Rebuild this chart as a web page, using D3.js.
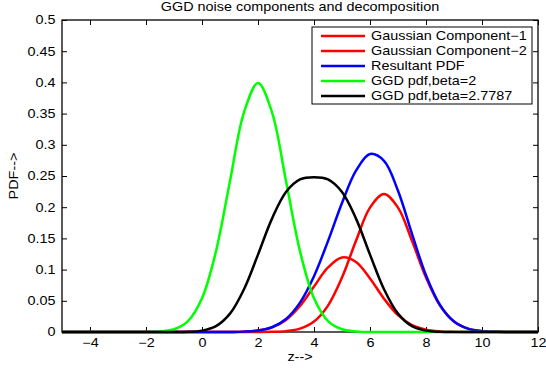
<!DOCTYPE html>
<html>
<head>
<meta charset="utf-8">
<script src="https://cdn.jsdelivr.net/npm/d3@7"></script>
<style>
body { margin: 0; background: #fff; }
text { font-family: "Liberation Sans", Arial, sans-serif; fill: #000; }
</style>
</head>
<body>
<script>
// z grid (step 0.5)
var zValues = [-5, -4.5, -4, -3.5, -3, -2.5, -2, -1.5, -1, -0.5, 0, 0.5, 1, 1.5, 2, 2.5, 3, 3.5, 4,
    4.5, 5, 5.5, 6, 6.5, 7, 7.5, 8, 8.5, 9, 9.5, 10, 10.5, 11, 11.5, 12];

var gauss1 = [0, 0, 0, 0, 0, 0, 0, 0, 0, 0, 0, 0, 0.0001, 0.0006, 0.0023, 0.0073, 0.0194, 0.0417, 0.0728,
    0.1034, 0.1195, 0.1123, 0.0859, 0.0534, 0.0270, 0.0111, 0.0037, 0.0010, 0.0002, 0, 0, 0, 0, 0, 0];
var gauss2 = [0, 0, 0, 0, 0, 0, 0, 0, 0, 0, 0, 0, 0, 0, 0.0001, 0.0003, 0.0014, 0.0054, 0.0167,
    0.0423, 0.0872, 0.1462, 0.1993, 0.2210, 0.1993, 0.1462, 0.0872, 0.0423, 0.0167, 0.0054, 0.0014, 0.0003, 0.0001, 0, 0];
var resultant = [0, 0, 0, 0, 0, 0, 0, 0, 0, 0, 0, 0, 0.0001, 0.0006, 0.0024, 0.0076, 0.0208, 0.0471, 0.0895,
    0.1457, 0.2067, 0.2585, 0.2852, 0.2744, 0.2263, 0.1573, 0.0909, 0.0433, 0.0169, 0.0054, 0.0014, 0.0003, 0.0001, 0, 0];
var ggdBeta2 = [0, 0, 0, 0, 0, 0, 0.0001, 0.0009, 0.0044, 0.0175, 0.0540, 0.1295, 0.2420, 0.3521, 0.3989, 0.3521, 0.2420, 0.1295, 0.0540,
    0.0175, 0.0044, 0.0009, 0.0001, 0, 0, 0, 0, 0, 0, 0, 0, 0, 0, 0, 0];
var ggdBeta27787 = [0, 0, 0, 0, 0, 0, 0, 0, 0, 0.0003, 0.0022, 0.0094, 0.0294, 0.0686, 0.1240, 0.1817, 0.2242, 0.2444, 0.2480,
    0.2444, 0.2242, 0.1817, 0.1240, 0.0686, 0.0294, 0.0094, 0.0022, 0.0003, 0, 0, 0, 0, 0, 0, 0];

var seriesNames = ["Gaussian Component\u22121", "Gaussian Component\u22122", "Resultant PDF", "GGD pdf,beta=2", "GGD pdf,beta=2.7787"];
var seriesColors = ["#ff0000", "#ff0000", "#0000ff", "#00ff00", "#000000"];
var seriesValues = [gauss1, gauss2, resultant, ggdBeta2, ggdBeta27787];

var xTicks = [-4, -2, 0, 2, 4, 6, 8, 10, 12];
var xTickLabels = ["\u22124", "\u22122", "0", "2", "4", "6", "8", "10", "12"];
var yTicks = [0, 0.05, 0.1, 0.15, 0.2, 0.25, 0.3, 0.35, 0.4, 0.45, 0.5];
var yTickLabels = ["0", "0.05", "0.1", "0.15", "0.2", "0.25", "0.3", "0.35", "0.4", "0.45", "0.5"];

var W = 546, H = 370;
var plotL = 62, plotR = 538, plotT = 20, plotB = 332;
var sx = 1.2; // text is drawn a bit wide in the reference

var x = d3.scaleLinear().domain([-5, 12]).range([plotL, plotR]);
var y = d3.scaleLinear().domain([0, 0.5]).range([plotB, plotT]);

var svg = d3.select("body").append("svg")
    .attr("width", W)
    .attr("height", H);

svg.append("rect")
    .attr("width", W).attr("height", H).attr("fill", "#fff");

// axes
var xAxis = d3.axisBottom(x).tickValues(xTicks)
    .tickFormat(function(d, i) { return xTickLabels[i]; })
    .tickSizeInner(-5).tickSizeOuter(0).tickPadding(6);
var yAxis = d3.axisLeft(y).tickValues(yTicks)
    .tickFormat(function(d, i) { return yTickLabels[i]; })
    .tickSizeInner(-5).tickSizeOuter(0).tickPadding(5.5);

svg.append("g").attr("transform", "translate(0," + plotB + ")").call(xAxis);
svg.append("g").attr("transform", "translate(" + plotL + ",0)").call(yAxis);
svg.append("g").attr("transform", "translate(0," + plotT + ")")
    .call(d3.axisTop(x).tickValues(xTicks).tickFormat("").tickSizeInner(-5).tickSizeOuter(0));
svg.append("g").attr("transform", "translate(" + plotR + ",0)")
    .call(d3.axisRight(y).tickValues(yTicks).tickFormat("").tickSizeInner(-5).tickSizeOuter(0));

svg.selectAll(".domain").remove();
svg.selectAll(".tick line").attr("stroke", "#000").attr("stroke-width", 1);
svg.selectAll(".tick text")
    .attr("font-family", "Liberation Sans, Arial, sans-serif")
    .attr("font-size", 12)
    .attr("fill", "#000")
    .attr("transform", "scale(" + sx + ",1)");

svg.append("rect")
    .attr("x", plotL).attr("y", plotT)
    .attr("width", plotR - plotL).attr("height", plotB - plotT)
    .attr("fill", "none").attr("stroke", "#000").attr("stroke-width", 1.3);

// curves
var line = d3.line()
    .x(function(d, i) { return x(zValues[i]); })
    .y(function(d) { return y(d); })
    .curve(d3.curveCatmullRom.alpha(0.5));

svg.append("g")
    .selectAll("path")
    .data(seriesValues)
    .join("path")
    .attr("d", line)
    .attr("fill", "none")
    .attr("stroke", function(d, i) { return seriesColors[i]; })
    .attr("stroke-width", 2.5)
    .attr("stroke-linejoin", "round");

function wideText(g, tx, ty, str, anchor) {
    return g.append("text")
        .attr("transform", "translate(" + tx + "," + ty + ") scale(" + sx + ",1)")
        .attr("text-anchor", anchor || "start")
        .attr("font-size", 12)
        .text(str);
}

// titles
wideText(svg, (plotL + plotR) / 2, 11, "GGD noise components and decomposition", "middle");
wideText(svg, (plotL + plotR) / 2, 361, "z-->", "middle");
svg.append("text")
    .attr("transform", "translate(18," + ((plotT + plotB) / 2) + ") rotate(-90) scale(" + sx + ",1)")
    .attr("text-anchor", "middle")
    .attr("font-size", 12)
    .text("PDF-->");

// legend
var legend = svg.append("g");
legend.append("rect")
    .attr("x", 312).attr("y", 27)
    .attr("width", 220).attr("height", 77)
    .attr("fill", "#fff").attr("stroke", "#000").attr("stroke-width", 1);

seriesNames.forEach(function(name, i) {
    var ly = 36 + i * 15;
    legend.append("line")
        .attr("x1", 321).attr("x2", 365)
        .attr("y1", ly).attr("y2", ly)
        .attr("stroke", seriesColors[i])
        .attr("stroke-width", 2.5);
    wideText(legend, 371, ly + 4, name);
});
</script>
</body>
</html>
